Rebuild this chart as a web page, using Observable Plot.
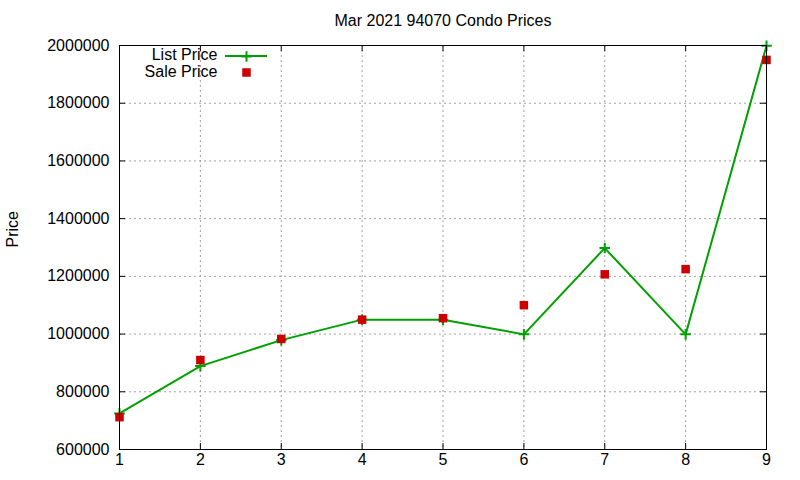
<!DOCTYPE html>
<html>
<head>
<meta charset="utf-8">
<script src="https://cdn.jsdelivr.net/npm/d3@7"></script>
<script src="https://cdn.jsdelivr.net/npm/@observablehq/plot@0.6"></script>
<style>
  html, body { margin: 0; padding: 0; background: #fff; }
  svg { display: block; }
</style>
</head>
<body>
<div id="chart"></div>
<script>
const title = "Mar 2021 94070 Condo Prices";
const yLabel = "Price";
const points = [1, 2, 3, 4, 5, 6, 7, 8, 9];
const listPrice = [725000, 889000, 979000, 1050000, 1050000, 999000, 1298000, 999000, 1999000];
const salePrice = [712000, 910000, 983000, 1050000, 1055000, 1100000, 1207000, 1225000, 1950000];
const xTicks = [1, 2, 3, 4, 5, 6, 7, 8, 9];
const yTicks = [600000, 800000, 1000000, 1200000, 1400000, 1600000, 1800000, 2000000];
const seriesNames = ["List Price", "Sale Price"];

const green = "#00a000";
const red = "#cc0000";
const font = "Liberation Sans, Arial, Helvetica, sans-serif";

const W = 800, H = 480, mL = 119, mR = 34, mT = 45, mB = 31;
const iw = W - mL - mR, ih = H - mT - mB;

const listData = points.map((p, i) => ({x: p, y: listPrice[i]}));
const saleData = points.map((p, i) => ({x: p, y: salePrice[i]}));

const chart = Plot.plot({
  width: W, height: H,
  marginLeft: mL, marginRight: mR, marginTop: mT, marginBottom: mB,
  style: {fontFamily: font, fontSize: "16px", color: "#000", background: "#fff"},
  x: {domain: [1, 9], ticks: xTicks, label: null},
  y: {domain: [600000, 2000000], ticks: yTicks, label: null},
  marks: [
    Plot.gridX(xTicks, {stroke: "#a0a0a0", strokeOpacity: 1, strokeDasharray: "2,3", strokeWidth: 1}),
    Plot.gridY(yTicks, {stroke: "#a0a0a0", strokeOpacity: 1, strokeDasharray: "2,3", strokeWidth: 1}),
    // inward ticks on all four sides
    Plot.ruleY(yTicks, {stroke: "#000", insetRight: iw - 6}),
    Plot.ruleY(yTicks, {stroke: "#000", insetLeft: iw - 6}),
    Plot.ruleX(xTicks, {stroke: "#000", insetTop: ih - 6}),
    Plot.ruleX(xTicks, {stroke: "#000", insetBottom: ih - 6}),
    Plot.axisX(xTicks, {tickSize: 0, tickPadding: 4, tickFormat: d => String(d), fontSize: 16, fill: "#000"}),
    Plot.axisY(yTicks, {tickSize: 0, tickPadding: 10, tickFormat: d => String(d), fontSize: 16, fill: "#000"}),
    Plot.line(listData, {x: "x", y: "y", stroke: green, strokeWidth: 2}),
    Plot.dot(listData, {x: "x", y: "y", symbol: "plus", stroke: green, strokeWidth: 2, r: 3.5}),
    Plot.dot(saleData, {x: "x", y: "y", symbol: "square", fill: red, stroke: "none", r: 4.8}),
    Plot.frame({stroke: "#000", strokeWidth: 1}),
    Plot.text([title], {frameAnchor: "top", lineAnchor: "middle", dy: -25, fontSize: 16, fill: "#000"}),
    Plot.text([yLabel], {frameAnchor: "left", lineAnchor: "middle", rotate: -90, dx: -107, fontSize: 16, fill: "#000"}),
    // legend
    Plot.text([seriesNames[0]], {frameAnchor: "top-left", lineAnchor: "middle", dx: 98, dy: 9, textAnchor: "end", fontSize: 16, fill: "#000"}),
    Plot.text([seriesNames[1]], {frameAnchor: "top-left", lineAnchor: "middle", dx: 98, dy: 26, textAnchor: "end", fontSize: 16, fill: "#000"}),
    Plot.dot([0], {frameAnchor: "top-left", dx: 127, dy: 11, symbol: "plus", stroke: green, strokeWidth: 2, r: 3.5}),
    Plot.dot([0], {frameAnchor: "top-left", dx: 127, dy: 27, symbol: "square", fill: red, stroke: "none", r: 4.8})
  ]
});

// legend sample line
const svg = d3.select(chart);
svg.append("line")
  .attr("x1", mL + 106).attr("x2", mL + 148)
  .attr("y1", mT + 11).attr("y2", mT + 11)
  .attr("stroke", green).attr("stroke-width", 2);

document.getElementById("chart").appendChild(chart);
</script>
</body>
</html>
